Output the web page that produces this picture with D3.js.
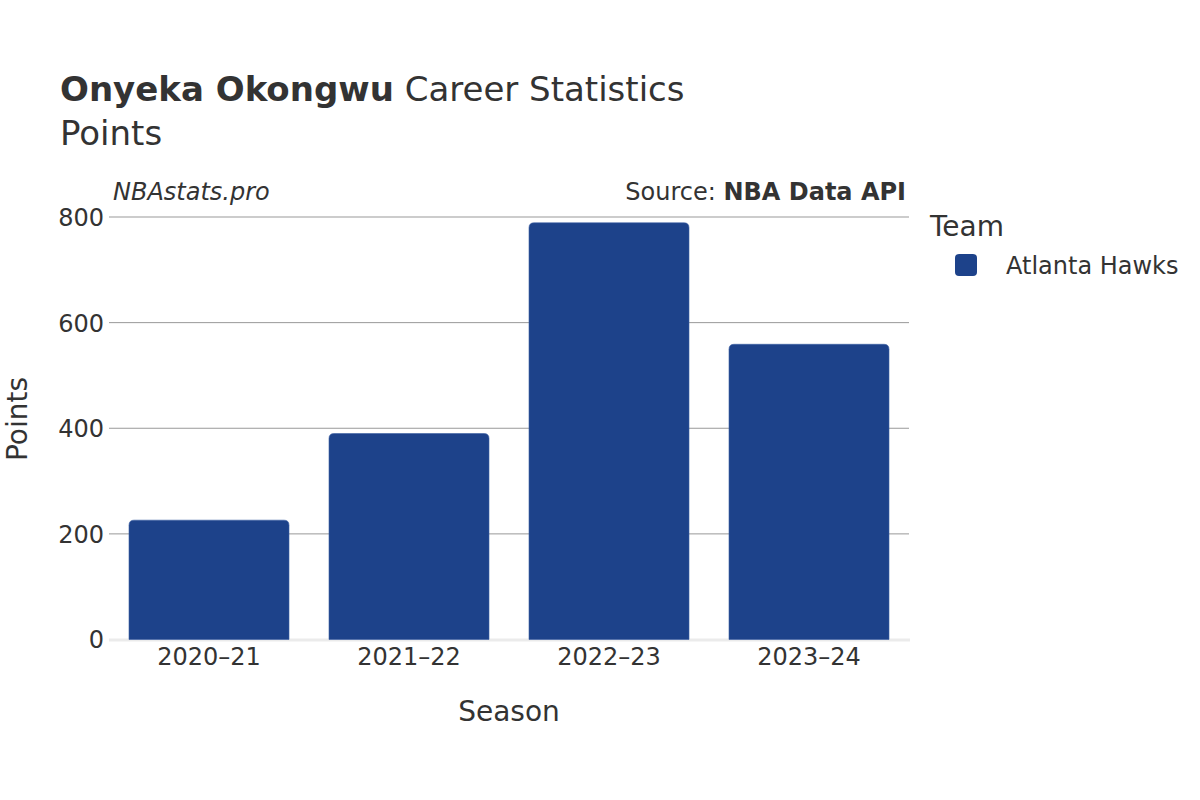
<!DOCTYPE html>
<html><head><meta charset="utf-8">
<script src="https://cdn.jsdelivr.net/npm/d3@7"></script>
<style>body{margin:0;background:#fff}text{font-family:"DejaVu Sans",sans-serif;fill:#333}</style>
</head><body><svg id="c" width="1200" height="800"></svg>
<script>
const seasons = ["2020–21","2021–22","2022–23","2023–24"];
const points = [226, 390, 789, 559];
const yTicks = [0,200,400,600,800];
const team = "Atlanta Hawks";
const teamColor = "#1d428a";

const svg = d3.select("#c");
const m = {l:109, r:909, t:217, b:639.5};
const x = d3.scaleBand().domain(seasons).range([m.l, m.r]).paddingInner(0.2).paddingOuter(0.1);
const y = d3.scaleLinear().domain([0,800]).range([m.b, m.t]);

// gridlines
svg.append("g").selectAll("line").data(yTicks.filter(d=>d>0)).join("line")
  .attr("x1",m.l).attr("x2",m.r).attr("y1",d=>y(d)).attr("y2",d=>y(d))
  .attr("stroke","#999").attr("stroke-width",1);
// zero line
svg.append("line").attr("x1",m.l).attr("x2",m.r+1).attr("y1",y(0)+0.5).attr("y2",y(0)+0.5)
  .attr("stroke","#ebebeb").attr("stroke-width",3);

// bars with rounded top corners
const r = 5;
svg.append("g").selectAll("path").data(seasons).join("path")
  .attr("d",(s,i)=>{
    const x0=x(s), w=x.bandwidth(), y0=y(points[i]), yb=y(0);
    return `M${x0},${yb}V${y0+r}Q${x0},${y0} ${x0+r},${y0}H${x0+w-r}Q${x0+w},${y0} ${x0+w},${y0+r}V${yb}Z`;
  })
  .attr("fill",teamColor).attr("stroke","#3a5ea3").attr("stroke-width",0.6);

// y axis labels
const yAxis = d3.axisLeft(y).tickValues(yTicks).tickSize(0).tickPadding(5);
const ga = svg.append("g").attr("transform",`translate(${m.l},0)`).call(yAxis);
ga.select(".domain").remove();
ga.selectAll("text").style("font-size","24px").attr("fill","#333").attr("dy","0.35em");

// x axis labels
const xAxis = d3.axisBottom(x).tickSize(0).tickPadding(8);
const gx = svg.append("g").attr("transform",`translate(0,${m.b})`).call(xAxis);
gx.select(".domain").remove();
gx.selectAll("text").style("font-size","24px").attr("fill","#333").attr("dy","0.71em");

// axis titles
svg.append("text").attr("x",(m.l+m.r)/2).attr("y",721).attr("text-anchor","middle").style("font-size","28px").text("Season");
svg.append("text").attr("transform",`translate(27,419) rotate(-90)`).attr("text-anchor","middle").style("font-size","28px").text("Points");

// title
const t = svg.append("text").attr("x",60).attr("y",101).style("font-size","34px");
t.append("tspan").style("font-weight","bold").text("Onyeka Okongwu");
t.append("tspan").text(" Career Statistics");
svg.append("text").attr("x",60).attr("y",145).style("font-size","34px").text("Points");

// watermark & source
svg.append("text").attr("x",113).attr("y",200).style("font-size","24px").style("font-style","italic").text("NBAstats.pro");
const src = svg.append("text").attr("x",906).attr("y",200).attr("text-anchor","end").style("font-size","24px");
src.append("tspan").text("Source: ");
src.append("tspan").style("font-weight","bold").text("NBA Data API");

// legend
svg.append("text").attr("x",930).attr("y",236).style("font-size","28px").text("Team");
svg.append("rect").attr("x",955).attr("y",254).attr("width",22).attr("height",22).attr("rx",4).attr("fill",teamColor);
svg.append("text").attr("x",1006).attr("y",274).style("font-size","24px").text(team);
</script></body></html>
